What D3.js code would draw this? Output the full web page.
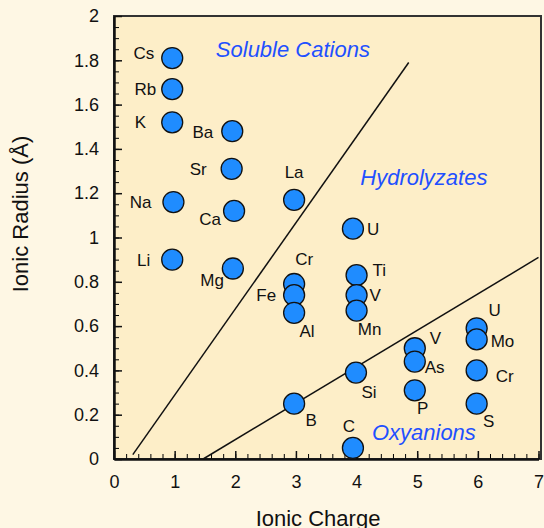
<!DOCTYPE html>
<meta charset="utf-8">
<script src="https://d3js.org/d3.v7.min.js"></script>
<style>
  body { margin: 0; background: #fef7e4; }
  text { font-family: "Liberation Sans", Arial, sans-serif; }
</style>
<body>
  <div id="container"></div>
</body>
<script>
    // chart data
    var elements = ["Cs", "Rb", "K", "Na", "Li", "Ba", "Sr", "Ca", "Mg", "La", "U",
                    "Cr", "Fe", "Al", "Ti", "V", "Mn", "V", "As", "P",
                    "U", "Mo", "Cr", "S", "Si", "B", "C"];
    var charges = [0.96, 0.96, 0.96, 0.98, 0.96, 1.95, 1.94, 1.98, 1.96, 2.97, 3.94,
                   2.97, 2.97, 2.97, 4.0, 4.0, 4.0, 4.96, 4.96, 4.96,
                   5.98, 5.98, 5.98, 5.98, 3.99, 2.97, 3.94];
    var radii = [1.81, 1.67, 1.52, 1.16, 0.90, 1.48, 1.31, 1.12, 0.86, 1.17, 1.04,
                 0.79, 0.74, 0.66, 0.83, 0.74, 0.67, 0.50, 0.44, 0.31,
                 0.59, 0.54, 0.40, 0.25, 0.39, 0.25, 0.05];

    // boundary lines between the fields
    var line1X = [0.31, 4.86], line1Y = [0.02, 1.79];
    var line2X = [1.47, 7.0], line2Y = [0.0, 0.91];

    // field names
    var fieldNames = ["Soluble Cations", "Hydrolyzates", "Oxyanions"];
    var fieldX = [2.95, 5.11, 5.11];
    var fieldY = [1.85, 1.27, 0.12];

    var xTicks = [0, 1, 2, 3, 4, 5, 6, 7];
    var yTicks = [0, 0.2, 0.4, 0.6, 0.8, 1, 1.2, 1.4, 1.6, 1.8, 2];

    // label placement next to each dot: [dx, dy, anchor] in px
    var labelPos = [
      [-18, -5, "end"], [-16, 0, "end"], [-26, 0, "end"], [-22, 0, "end"], [-22, 0, "end"],
      [-19, 1, "end"], [-25, 0, "end"], [-13, 8, "end"], [-9, 12, "end"],
      [0, -28, "middle"], [14, 0, "start"],
      [10, -25, "middle"], [-18, 0, "end"], [13, 18, "middle"],
      [16, -5, "start"], [13, 0, "start"], [13, 18, "middle"],
      [15, -10, "start"], [10, 6, "start"], [8, 18, "middle"],
      [18, -18, "middle"], [14, 2, "start"], [19, 6, "start"], [12, 17, "middle"],
      [13, 19, "middle"], [17, 16, "middle"], [-4, -22, "middle"]
    ];

    var W = 544, H = 528;
    var margin = {top: 16, right: 3, bottom: 69, left: 114};

    var svg = d3.select("#container")
      .append("svg")
      .attr("width", W)
      .attr("height", H);

    svg.append("rect")
      .attr("width", W).attr("height", H)
      .attr("fill", "#fef7e4");

    var x = d3.scaleLinear().domain([0, 7]).range([margin.left, 538.5]);
    var y = d3.scaleLinear().domain([0, 2]).range([459, margin.top]);

    // plot area
    svg.append("rect")
      .attr("x", margin.left).attr("y", margin.top)
      .attr("width", 541 - margin.left).attr("height", 459 - margin.top)
      .attr("fill", "#fdeec8")
      .attr("stroke", "#333")
      .attr("stroke-width", 2);

    // minor ticks
    svg.append("g")
      .attr("transform", "translate(0,459)")
      .call(d3.axisBottom(x).tickValues(d3.range(0, 7.01, 0.2)).tickSize(-5).tickFormat(""))
      .call(g => g.select(".domain").remove());
    svg.append("g")
      .attr("transform", "translate(" + margin.left + ",0)")
      .call(d3.axisLeft(y).tickValues(d3.range(0, 2.001, 0.05)).tickSize(-5).tickFormat(""))
      .call(g => g.select(".domain").remove());

    // major ticks + labels
    var xAxis = svg.append("g")
      .attr("transform", "translate(0,459)")
      .call(d3.axisBottom(x).tickValues(xTicks).tickSize(-8).tickPadding(16).tickSizeOuter(0)
        .tickFormat(d => d));
    var yAxis = svg.append("g")
      .attr("transform", "translate(" + margin.left + ",0)")
      .call(d3.axisLeft(y).tickValues(yTicks).tickSize(-8).tickPadding(15).tickSizeOuter(0)
        .tickFormat(d => +d.toFixed(1)));

    [xAxis, yAxis].forEach(function(a) {
      a.selectAll("text").attr("font-size", 18).attr("fill", "#111")
        .attr("font-family", "Liberation Sans, Arial, sans-serif");
      a.selectAll("line").attr("stroke", "#111").attr("stroke-width", 1.5);
      a.select(".domain").attr("stroke", "#111").attr("stroke-width", 2.5);
    });

    // boundary lines
    var line = d3.line().x(d => x(d[0])).y(d => y(d[1]));
    [[line1X, line1Y], [line2X, line2Y]].forEach(function(l) {
      svg.append("path")
        .attr("d", line(d3.zip(l[0], l[1])))
        .attr("fill", "none")
        .attr("stroke", "#111")
        .attr("stroke-width", 1.5);
    });

    // field names
    svg.selectAll(".field")
      .data(fieldNames)
      .enter()
      .append("text")
        .attr("x", (d, i) => x(fieldX[i]))
        .attr("y", (d, i) => y(fieldY[i]))
        .attr("dy", "0.35em")
        .attr("text-anchor", "middle")
        .attr("font-size", 22)
        .attr("font-style", "italic")
        .attr("fill", "#1f50ff")
        .text(d => d);

    // dots
    svg.append("g")
      .selectAll("circle")
      .data(elements)
      .enter()
      .append("circle")
        .attr("cx", (d, i) => x(charges[i]))
        .attr("cy", (d, i) => y(radii[i]))
        .attr("r", 10.5)
        .attr("fill", "#1f8cff")
        .attr("stroke", "#111")
        .attr("stroke-width", 1.3);

    // element labels
    svg.append("g")
      .selectAll("text")
      .data(elements)
      .enter()
      .append("text")
        .attr("x", (d, i) => x(charges[i]) + labelPos[i][0])
        .attr("y", (d, i) => y(radii[i]) + labelPos[i][1])
        .attr("dy", "0.35em")
        .attr("text-anchor", (d, i) => labelPos[i][2])
        .attr("font-size", 17)
        .attr("fill", "#111")
        .text(d => d);

    // axis titles
    svg.append("text")
      .attr("x", 318).attr("y", 526)
      .attr("text-anchor", "middle")
      .attr("font-size", 22)
      .attr("fill", "#111")
      .text("Ionic Charge");
    svg.append("text")
      .attr("transform", "translate(28,214) rotate(-90)")
      .attr("text-anchor", "middle")
      .attr("font-size", 22)
      .attr("fill", "#111")
      .text("Ionic Radius (Å)");
</script>
